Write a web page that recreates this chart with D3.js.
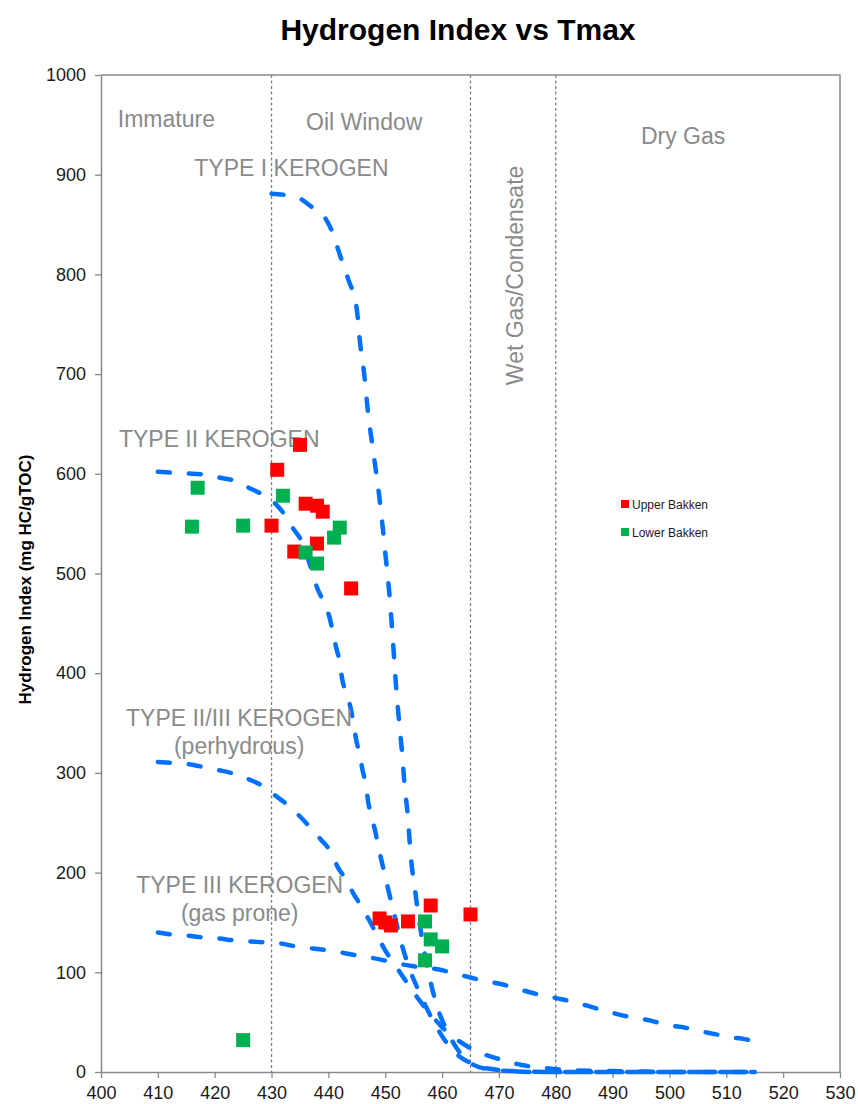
<!DOCTYPE html>
<html>
<head>
<meta charset="utf-8">
<script src="https://cdn.jsdelivr.net/npm/d3@7"></script>
<style>
  html, body { margin: 0; padding: 0; background: #fff; }
  svg { display: block; font-family: "Liberation Sans", Arial, sans-serif; }
</style>
</head>
<body>
<svg id="chart" width="858" height="1104"></svg>
<script>
// Rock-Eval samples: [Tmax (°C), Hydrogen Index (mg HC/gTOC)]
const upperBakken = [
  [435, 629], [431, 604], [430, 548], [436, 570], [438, 568], [439, 562],
  [434, 522], [438, 530], [444, 485],
  [449, 154], [450, 150], [451, 147], [454, 151], [458, 167], [465, 158]
];
const lowerBakken = [
  [417, 586], [416, 547], [425, 548], [432, 578], [436, 521], [438, 510],
  [441, 536], [442, 546], [425, 32],
  [457, 151], [458, 133], [460, 126], [457, 112]
];

// Kerogen maturation pathways
const typeI = [
  [430, 881], [432, 880], [435, 876], [437, 868], [439, 860], [440.5, 845],
  [442, 820], [443.5, 795], [445, 765], [445.6, 730], [446.3, 700], [447, 660],
  [447.7, 630], [449, 575], [450.2, 510], [450.8, 475], [451.2, 445], [451.6, 412],
  [452, 380], [452.5, 348], [453, 318], [453.4, 288], [454, 255], [454.4, 223],
  [455.3, 180], [456.3, 140], [457.6, 100], [459, 68], [460.8, 42], [462.8, 22],
  [465, 9], [468, 3], [472, 1], [480, 0], [515, 0]
];
const typeII = [
  [410, 602], [413, 601], [416, 600], [419, 599], [421, 596], [423.5, 593],
  [426, 586], [428.5, 579], [430.5, 571], [432.3, 559], [433.7, 546], [435.5, 530],
  [436.8, 508], [438, 486], [439.2, 471], [440.2, 456], [440.8, 441], [441.4, 425],
  [442, 411], [442.4, 395], [443.1, 380], [444, 363], [444.4, 350], [444.9, 333],
  [445.5, 318], [446, 303], [446.6, 288], [447, 271], [447.6, 256], [448.3, 240],
  [448.8, 226], [450, 196], [451.5, 160], [453, 126], [454.5, 100], [456, 80],
  [458, 56], [460, 36], [462, 21], [465, 9], [470, 2], [476, 0], [515, 0]
];
const typeIIorIII = [
  [410, 311], [412.4, 310], [415, 309], [418, 306], [420.5, 303], [423.5, 299],
  [425.8, 294], [428.4, 287], [430.5, 278], [432.8, 268], [434.7, 258], [436.7, 246],
  [438.7, 233], [440.5, 220], [441.6, 206], [443.1, 193], [444.3, 180], [445.8, 166],
  [447.2, 152], [448.4, 139], [450, 122], [452, 105], [454, 88], [456, 72],
  [458, 58], [460, 45], [463, 31], [466, 21], [470, 13], [474, 7], [478, 4],
  [482, 2], [490, 1], [500, 0], [515, 0]
];
const typeIII = [
  [410, 140], [412.4, 138], [415, 137], [418, 135], [420.5, 134], [423.5, 132],
  [426, 131], [429, 130], [431.4, 129], [434.3, 126], [440, 122], [445, 117],
  [449, 113], [452, 109], [455, 106], [459.2, 103], [462.2, 99], [464.8, 95],
  [467.8, 91], [470.5, 88], [473, 84], [475.4, 80], [478.3, 76], [481, 73],
  [484, 69], [486.4, 65], [489, 61], [491.5, 57], [494.4, 54], [497, 51],
  [499.7, 47], [502.3, 45], [505.3, 41], [508, 38], [510.6, 35], [513.2, 33],
  [515, 31]
];

// Maturity zone boundaries (Tmax) and zone labels (anchored at text baseline)
const zoneBoundaries = [430, 465, 480];
const zoneLabels = [
  { text: "Immature", x: 411.5, y: 948 },
  { text: "Oil Window", x: 446.3, y: 945 },
  { text: "Dry Gas", x: 502.4, y: 931 }
];
const wetGasLabel = { text: "Wet Gas/Condensate", x: 472, y: 799 };

const kerogenLabels = [
  { lines: ["TYPE I KEROGEN"], x: 433.5, y: 899 },
  { lines: ["TYPE II KEROGEN"], x: 420.8, y: 627 },
  { lines: ["TYPE II/III KEROGEN", "(perhydrous)"], x: 424.3, y: 347 },
  { lines: ["TYPE III KEROGEN", "(gas prone)"], x: 424.4, y: 180 }
];

const xTicks = d3.range(400, 531, 10);
const yTicks = d3.range(0, 1001, 100);

const series = [
  { name: "Upper Bakken", color: "#ff0000", data: upperBakken },
  { name: "Lower Bakken", color: "#00b050", data: lowerBakken }
];
const curves = [typeI, typeII, typeIIorIII, typeIII];

// ---- layout ----
const svg = d3.select("#chart");
const x = d3.scaleLinear().domain([400, 530]).range([101, 840]);
const y = d3.scaleLinear().domain([0, 1000]).range([1072, 75]);
const axisGray = "#898989";
const textGray = "#8a8a8a";

// title
svg.append("text")
  .attr("x", 458).attr("y", 40)
  .attr("text-anchor", "middle")
  .attr("font-size", 30).attr("font-weight", "bold")
  .attr("fill", "#000")
  .text("Hydrogen Index vs Tmax");

// plot frame (top and right)
svg.append("path")
  .attr("d", `M${x(400)},${y(1000)}H${x(530)}V${y(0)}`)
  .attr("fill", "none").attr("stroke", axisGray).attr("stroke-width", 1.5);

// zone boundaries
svg.append("g").selectAll("line").data(zoneBoundaries).join("line")
  .attr("x1", d => x(d)).attr("x2", d => x(d))
  .attr("y1", y(1000)).attr("y2", y(0))
  .attr("stroke", "#7f7f7f").attr("stroke-width", 1.3)
  .attr("stroke-dasharray", "3,2.5");

// axes
const yAxis = svg.append("g")
  .attr("transform", `translate(${x(400)},0)`)
  .call(d3.axisLeft(y).tickValues(yTicks).tickFormat(d3.format("d"))
    .tickSize(6).tickPadding(9).tickSizeOuter(0));
const xAxis = svg.append("g")
  .attr("transform", `translate(0,${y(0)})`)
  .call(d3.axisBottom(x).tickValues(xTicks).tickFormat(d3.format("d"))
    .tickSize(6).tickPadding(8).tickSizeOuter(0));
[xAxis, yAxis].forEach(g => {
  g.select(".domain").attr("stroke", axisGray).attr("stroke-width", 1.5);
  g.selectAll(".tick line").attr("stroke", axisGray).attr("stroke-width", 1.3);
  g.selectAll(".tick text")
    .attr("font-size", 18).attr("fill", "#1a1a1a")
    .attr("font-family", "'Liberation Sans', Arial, sans-serif");
});

// y-axis title
svg.append("text")
  .attr("transform", `translate(31,${(y(0) + y(1000)) / 2 + 6}) rotate(-90)`)
  .attr("text-anchor", "middle")
  .attr("font-size", 17).attr("font-weight", "bold").attr("fill", "#000")
  .text("Hydrogen Index (mg HC/gTOC)");

// zone labels
svg.append("g").selectAll("text").data(zoneLabels).join("text")
  .attr("x", d => x(d.x)).attr("y", d => y(d.y))
  .attr("text-anchor", "middle")
  .attr("font-size", 23).attr("fill", textGray)
  .text(d => d.text);
svg.append("text")
  .attr("transform", `translate(${x(wetGasLabel.x) + 13},${y(wetGasLabel.y)}) rotate(-90)`)
  .attr("text-anchor", "middle")
  .attr("font-size", 23).attr("fill", textGray)
  .text(wetGasLabel.text);

// kerogen pathway curves
const line = d3.line()
  .x(d => x(d[0])).y(d => y(d[1]))
  .curve(d3.curveMonotoneX);
svg.append("g").selectAll("path").data(curves).join("path")
  .attr("d", line)
  .attr("fill", "none")
  .attr("stroke", "#0070ff")
  .attr("stroke-width", 4.5)
  .attr("stroke-linecap", "round")
  .attr("stroke-dasharray", "12,19");

// kerogen labels
const kl = svg.append("g").selectAll("text").data(kerogenLabels).join("text")
  .attr("x", d => x(d.x)).attr("y", d => y(d.y))
  .attr("text-anchor", "middle")
  .attr("font-size", 23).attr("fill", textGray);
kl.selectAll("tspan").data(d => d.lines.map((t, i) => ({ t, i, d }))).join("tspan")
  .attr("x", o => x(o.d.x))
  .attr("dy", o => o.i === 0 ? 0 : 28)
  .text(o => o.t);

// sample points
const sq = 14;
series.forEach(s => {
  svg.append("g").selectAll("rect").data(s.data).join("rect")
    .attr("x", d => x(d[0]) - sq / 2)
    .attr("y", d => y(d[1]) - sq / 2)
    .attr("width", sq).attr("height", sq)
    .attr("fill", s.color);
});

// legend
const legend = svg.append("g").attr("transform", "translate(621,500)");
const li = legend.selectAll("g").data(series).join("g")
  .attr("transform", (d, i) => `translate(0,${i * 28})`);
li.append("rect").attr("width", 8).attr("height", 8).attr("fill", d => d.color);
li.append("text").attr("x", 11).attr("y", 8.5)
  .attr("font-size", 12).attr("fill", "#1a1a1a")
  .text(d => d.name);
</script>
</body>
</html>
